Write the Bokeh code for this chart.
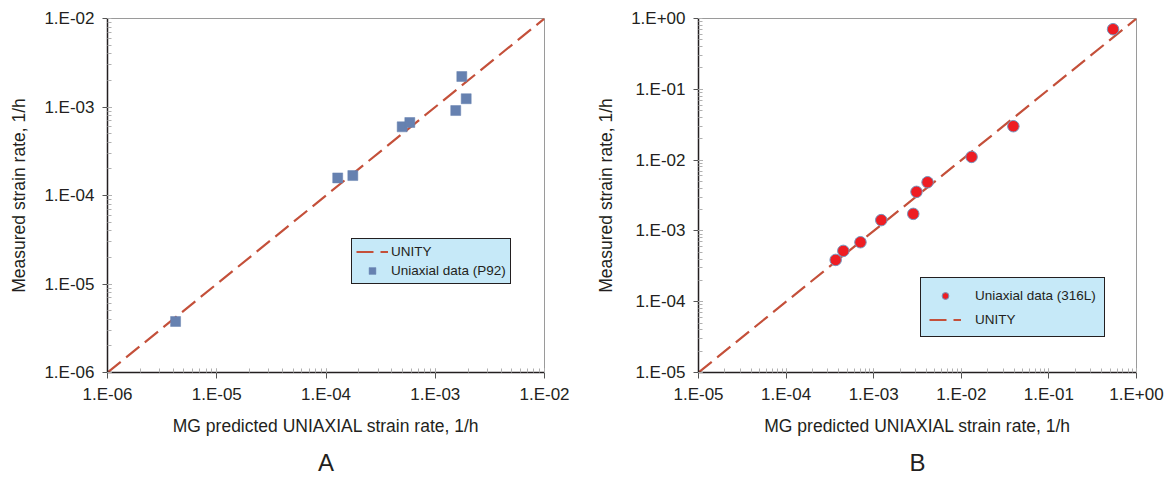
from bokeh.plotting import figure
from bokeh.models import (LogTicker, CustomJSTickFormatter, Legend, LegendItem, Title, Range1d)
from bokeh.layouts import row
from bokeh.embed import file_html
from bokeh.resources import INLINE

# ---- data ----
p92_pred = [4.2e-6, 1.28e-4, 1.76e-4, 4.98e-4, 5.85e-4, 1.54e-3, 1.75e-3, 1.92e-3]
p92_meas = [3.77e-6, 1.58e-4, 1.68e-4, 5.97e-4, 6.68e-4, 9.12e-4, 2.21e-3, 1.24e-3]
unity_a = [1e-6, 1e-2]

s316_pred = [3.68e-4, 4.5e-4, 7.06e-4, 1.22e-3, 2.83e-3, 3.08e-3, 4.12e-3, 1.31e-2, 3.93e-2, 0.54]
s316_meas = [3.89e-4, 5.22e-4, 6.92e-4, 1.42e-3, 1.74e-3, 3.56e-3, 4.87e-3, 1.11e-2, 3.01e-2, 0.706]
unity_b = [1e-5, 1.0]

x_label = "MG predicted UNIAXIAL strain rate, 1/h"
y_label = "Measured strain rate, 1/h"

FONT = "Liberation Sans"
UNITY_COLOR = "#c4503a"
SQ_COLOR = "#6681b0"
RED = "#ee1d23"
RED_EDGE = "#7596bd"
LEG_BG = "#c6e9f8"

fmt_code = """
const e = Math.round(Math.log10(tick));
const s = e < 0 ? '-' : '+';
const a = Math.abs(e);
return '1.E' + s + (a < 10 ? '0' + a : '' + a);
"""


def make_fig(rng, width, left, right, panel):
    p = figure(width=width, height=488, x_axis_type="log", y_axis_type="log",
               x_range=Range1d(*rng), y_range=Range1d(*rng),
               output_backend="svg", toolbar_location=None,
               min_border_left=left, min_border_right=right,
               min_border_top=18, min_border_bottom=116)
    p.grid.visible = False
    p.outline_line_color = "#9a9a9a"
    p.outline_line_width = 1
    p.background_fill_color = "white"
    p.border_fill_color = "white"
    for ax in (p.xaxis[0], p.yaxis[0]):
        ax.ticker = LogTicker(num_minor_ticks=10)
        ax.formatter = CustomJSTickFormatter(code=fmt_code)
        ax.major_label_text_font = FONT
        ax.major_label_text_font_size = "17px"
        ax.major_label_text_color = "#231f20"
        ax.axis_label_text_font = FONT
        ax.axis_label_text_font_size = "17.5px"
        ax.axis_label_text_font_style = "normal"
        ax.axis_label_text_color = "#231f20"
        ax.axis_line_color = "#231f20"
        ax.axis_line_width = 1.5
        ax.major_tick_line_color = "#555555"
        ax.minor_tick_line_color = "#b0b0b0"
        ax.minor_tick_in = 4
        ax.minor_tick_out = 0
    p.xaxis.axis_label = x_label
    p.yaxis.axis_label = y_label
    p.xaxis.major_tick_in = 0
    p.xaxis.major_tick_out = 6
    p.yaxis.major_tick_in = 4
    p.yaxis.major_tick_out = 5
    p.xaxis.major_label_standoff = 6
    p.yaxis.major_label_standoff = 8
    p.xaxis.axis_label_standoff = 9
    p.yaxis.axis_label_standoff = 12
    t = Title(text=panel, align="center", text_font=FONT, text_font_size="24px",
              text_font_style="normal", text_color="#231f20", standoff=16)
    p.add_layout(t, "below")
    return p


# ---- panel A ----
pa = make_fig((1e-6, 1e-2), 585, 107, 41, "A")
la = pa.line(unity_a, unity_a, line_color=UNITY_COLOR, line_width=2.2, line_dash="17 7")
sa = pa.scatter(p92_pred, p92_meas, marker="square", size=10, fill_color=SQ_COLOR,
                line_color=SQ_COLOR, line_width=0.5)
leg_a = Legend(items=[LegendItem(label="UNITY", renderers=[la]),
                      LegendItem(label="Uniaxial data (P92)", renderers=[sa])],
               location=(244, 88), background_fill_color=LEG_BG, background_fill_alpha=1,
               border_line_color="#231f20", border_line_width=1.5, border_line_alpha=1,
               label_text_font=FONT, label_text_font_size="13.5px", label_text_color="#231f20",
               glyph_width=32, glyph_height=17, label_height=17, spacing=2, padding=4,
               label_standoff=3, margin=0)
pa.add_layout(leg_a)

# ---- panel B ----
pb = make_fig((1e-5, 1.0), 586, 113, 35, "B")
lb = pb.line(unity_b, unity_b, line_color=UNITY_COLOR, line_width=2.2, line_dash="17 7")
sb = pb.scatter(s316_pred, s316_meas, marker="circle", size=11.5, fill_color=RED,
                line_color=RED_EDGE, line_width=1)
leg_b = Legend(items=[LegendItem(label="Uniaxial data (316L)", renderers=[sb]),
                      LegendItem(label="UNITY", renderers=[lb])],
               location=(222, 35), background_fill_color=LEG_BG, background_fill_alpha=1,
               border_line_color="#231f20", border_line_width=1.5, border_line_alpha=1,
               label_text_font=FONT, label_text_font_size="13.5px", label_text_color="#231f20",
               glyph_width=32, glyph_height=17, label_height=18, spacing=6, padding=8,
               label_standoff=14, margin=0)
pb.add_layout(leg_b)

layout = row(pa, pb)
open("out.html", "w").write(file_html(layout, INLINE))
